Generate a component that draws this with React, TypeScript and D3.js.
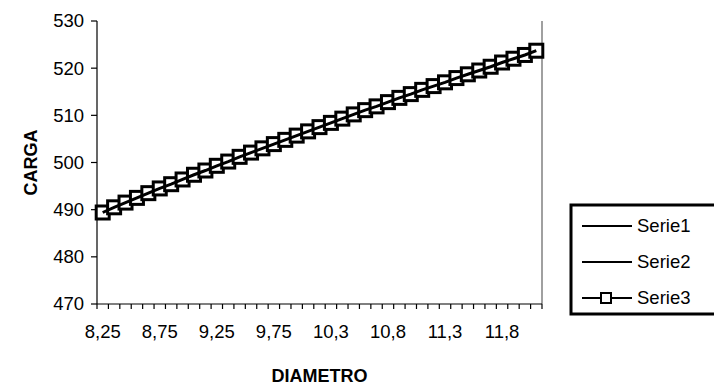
import React from "react";
import * as d3 from "d3";

// diametro categories
const diametros = [
  8.25, 8.35, 8.45, 8.55, 8.65, 8.75, 8.85, 8.95, 9.05, 9.15, 9.25, 9.35, 9.45,
  9.55, 9.65, 9.75, 9.85, 9.95, 10.05, 10.15, 10.25, 10.35, 10.45, 10.55, 10.65,
  10.75, 10.85, 10.95, 11.05, 11.15, 11.25, 11.35, 11.45, 11.55, 11.65, 11.75,
  11.85, 11.95, 12.05,
];

const serie1 = [
  489.4, 490.5, 491.5, 492.5, 493.5, 494.5, 495.4, 496.4, 497.4, 498.3, 499.3,
  500.2, 501.2, 502.1, 503.0, 503.9, 504.8, 505.7, 506.6, 507.5, 508.4, 509.3,
  510.2, 511.1, 511.9, 512.8, 513.7, 514.5, 515.4, 516.2, 517.0, 517.9, 518.7,
  519.5, 520.3, 521.2, 522.0, 522.8, 523.7,
];
const serie2 = [
  489.4, 490.5, 491.5, 492.5, 493.5, 494.5, 495.4, 496.4, 497.4, 498.3, 499.3,
  500.2, 501.2, 502.1, 503.0, 503.9, 504.8, 505.7, 506.6, 507.5, 508.4, 509.3,
  510.2, 511.1, 511.9, 512.8, 513.7, 514.5, 515.4, 516.2, 517.0, 517.9, 518.7,
  519.5, 520.3, 521.2, 522.0, 522.8, 523.7,
];
const serie3 = [
  489.4, 490.5, 491.5, 492.5, 493.5, 494.5, 495.4, 496.4, 497.4, 498.3, 499.3,
  500.2, 501.2, 502.1, 503.0, 503.9, 504.8, 505.7, 506.6, 507.5, 508.4, 509.3,
  510.2, 511.1, 511.9, 512.8, 513.7, 514.5, 515.4, 516.2, 517.0, 517.9, 518.7,
  519.5, 520.3, 521.2, 522.0, 522.8, 523.7,
];

// labels shown every 5 categories (Excel rounds them)
const xTickLabels = ["8,25", "8,75", "9,25", "9,75", "10,3", "10,8", "11,3", "11,8"];
const yTicks = [470, 480, 490, 500, 510, 520, 530];
const seriesNames = ["Serie1", "Serie2", "Serie3"];

const W = 714;
const H = 386;
const margin = { top: 21, right: 172, bottom: 82, left: 97 };
const font = "Arial, 'Liberation Sans', sans-serif";

export default function App() {
  const innerW = W - margin.left - margin.right;
  const innerH = H - margin.top - margin.bottom;

  const x = d3
    .scaleBand<number>()
    .domain(d3.range(diametros.length))
    .range([0, innerW]);
  const y = d3.scaleLinear().domain([470, 530]).range([innerH, 0]);

  const line = d3
    .line<number>()
    .x((_, i) => x(i)! + x.bandwidth() / 2)
    .y((d) => y(d));

  const series = [serie1, serie2, serie3];
  const bounds = d3.range(diametros.length + 1).map((i) => i * x.bandwidth());
  const m = 13; // marker size

  return (
    <svg
      width={W}
      height={H}
      style={{ position: "absolute", left: 0, top: 0, background: "#fff" }}
      fontFamily={font}
    >
      <g transform={`translate(${margin.left},${margin.top})`}>
        {/* right border of plot */}
        <line x1={innerW} x2={innerW} y1={0} y2={innerH} stroke="#808080" strokeWidth={1.5} />

        {/* y axis */}
        <line x1={0} x2={0} y1={0} y2={innerH} stroke="#000" strokeWidth={1.2} />
        {yTicks.map((t) => (
          <g key={t} transform={`translate(0,${y(t)})`}>
            <line x1={-6} x2={0} stroke="#000" strokeWidth={1.2} />
            <text x={-13} dy="0.35em" textAnchor="end" fontSize={18.5}>
              {t}
            </text>
          </g>
        ))}

        {/* x axis */}
        <line x1={0} x2={innerW} y1={innerH} y2={innerH} stroke="#000" strokeWidth={1.2} />
        {bounds.map((b, i) => (
          <line key={i} x1={b} x2={b} y1={innerH} y2={innerH + 5} stroke="#000" strokeWidth={1.2} />
        ))}
        {xTickLabels.map((lab, k) => (
          <text
            key={lab}
            x={x(k * 5)! + x.bandwidth() / 2}
            y={innerH + 34}
            textAnchor="middle"
            fontSize={18.5}
          >
            {lab}
          </text>
        ))}

        {/* series */}
        {series.map((s, si) => (
          <path key={si} d={line(s) ?? ""} fill="none" stroke="#000" strokeWidth={3} />
        ))}
        {serie3.map((v, i) => (
          <rect
            key={i}
            x={x(i)! + x.bandwidth() / 2 - m / 2}
            y={y(v) - m / 2}
            width={m}
            height={m}
            fill="#fff"
            stroke="#000"
            strokeWidth={3}
          />
        ))}
        <path d={line(serie3) ?? ""} fill="none" stroke="#000" strokeWidth={3} />
      </g>

      {/* axis titles */}
      <text
        transform={`translate(37,${margin.top + innerH / 2}) rotate(-90)`}
        textAnchor="middle"
        fontSize={18}
        fontWeight="bold"
      >
        CARGA
      </text>
      <text x={margin.left + innerW / 2} y={382} textAnchor="middle" fontSize={18} fontWeight="bold">
        DIAMETRO
      </text>

      {/* legend */}
      <rect x={571} y={205} width={160} height={109} fill="#fff" stroke="#000" strokeWidth={3} />
      {seriesNames.map((n, i) => {
        const ly = 226 + i * 36;
        return (
          <g key={n}>
            <line x1={582} x2={632} y1={ly} y2={ly} stroke="#000" strokeWidth={2} />
            {i === 2 && (
              <rect x={601} y={ly - 5} width={10} height={10} fill="#fff" stroke="#000" strokeWidth={2} />
            )}
            <text x={637} y={ly} dy="0.35em" fontSize={18.5}>
              {n}
            </text>
          </g>
        );
      })}
    </svg>
  );
}
